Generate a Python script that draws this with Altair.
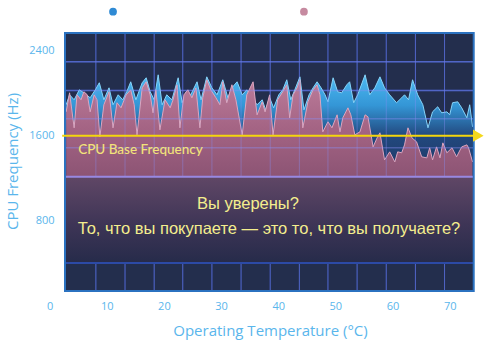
import altair as alt
import pandas as pd

# ---- data ----
pink_x = [2.9,3.5,4.3,4.8,5.5,6.0,6.6,7.1,7.8,8.3,8.8,9.5,10.4,11.1,11.8,12.5,13.4,14.2,14.8,15.3,16.2,16.9,17.6,18.1,18.6,19.3,20.2,21.1,21.6,22.3,22.8,23.5,24.2,24.9,25.6,26.3,26.8,27.5,28.2,29.1,29.8,30.3,31.0,31.9,32.6,33.7,34.5,35.6,36.3,37.2,37.7,38.5,39.1,39.9,40.8,41.5,42.0,42.6,43.3,43.8,44.3,45.2,46.1,46.8,47.3,47.8,48.7,49.4,50.3,50.8,51.3,52.2,52.7,53.4,54.3,55.2,55.7,56.6,57.3,57.8,58.6,59.5,60.4,60.9,61.6,62.1,62.7,63.4,64.2,65.1,66.0,66.5,67.0,67.7,68.3,68.8,69.5,70.4,71.2,72.1,73.0,73.3,74.0]
pink_y = [1825,2005,1674,1986,1939,2015,1986,1825,1986,1939,1589,1892,2015,1674,1911,1863,1986,2033,1892,1608,2052,2109,1986,1816,2033,1655,1939,1863,1939,2081,1674,1986,2033,1958,2052,1674,1958,2128,2033,1958,1892,2109,1911,2081,1939,1608,1986,2109,1797,1920,1825,1986,1608,1939,2015,2081,1769,1986,2052,2128,1674,1920,2033,2081,1986,1636,1731,1674,1797,1636,1769,1863,1797,1608,1636,1797,1778,1494,1579,1627,1371,1447,1352,1447,1438,1513,1674,1579,1542,1400,1390,1485,1371,1494,1390,1532,1438,1485,1400,1494,1513,1485,1352]

blue_x = [2.9,3.5,4.3,5.2,6.0,7.1,8.0,8.7,9.5,10.4,11.1,12.0,12.8,13.5,14.2,15.1,16.2,16.9,17.6,18.3,19.0,19.7,20.5,21.4,22.5,23.2,23.9,24.7,25.8,26.5,27.5,28.4,29.3,30.3,31.2,31.9,32.8,33.7,34.5,35.4,36.3,37.2,37.8,38.5,39.2,40.1,40.8,41.5,42.2,42.9,43.8,44.5,45.4,46.1,46.8,47.5,48.2,48.7,49.6,50.4,51.1,52.0,52.5,53.2,53.9,55.2,56.0,56.9,57.8,58.6,59.5,60.7,61.6,62.1,62.8,63.5,64.4,65.3,66.2,67.0,67.9,68.6,69.5,70.0,70.5,71.4,72.1,73.0,73.5,74.0]
blue_y = [1892,1986,1939,2033,2005,1958,2033,2100,1939,2052,1892,1986,1939,2015,2109,1939,2100,2147,2015,1939,2175,1892,1986,1939,2147,1911,2015,1986,2109,1939,2156,2052,1986,2128,1958,2052,2109,1986,2033,1958,1892,1939,1844,1958,1863,1986,2033,2128,1939,2033,2156,1844,1986,2052,2109,2052,1986,1920,2147,2015,2005,2081,2109,1911,1986,2175,1986,2052,2156,2052,1986,1911,1958,1986,1939,2128,1986,1892,1674,1825,1873,1816,1825,1797,1911,1920,1863,1769,1892,1683]

x_ticks = [0, 10, 20, 30, 40, 50, 60, 70]
y_ticks = [800, 1600, 2400]
grid_x = [8.1, 13.2, 18.3, 23.3, 28.4, 33.5, 38.6, 43.7, 48.7, 53.8, 58.9, 64.0, 69.1]
grid_y = [2298, 2027, 1759, 1485]
base_freq = 1600
plot_box = {"x": [2.7], "x2": [74.2], "y": [132], "y2": [2570]}
band_top = 1212
band_bottom = 397
legend_x = [11.1, 44.5]
legend_y = [2771, 2771]
legend_names = ["blue", "pink"]

line1 = "Вы уверены?"
line2 = "То, что вы покупаете — это то, что вы получаете?"

# ---- scales and axes (identical in every layer) ----
xs = alt.Scale(domain=[-1.5, 76], nice=False, zero=False)
ys = alt.Scale(domain=[85, 2570], nice=False, zero=False)
AXC = "#5ab6ec"
X_AX = alt.Axis(values=x_ticks, title="Operating Temperature (°C)", grid=False, format="d",
                domain=False, ticks=False, tickSize=0, labelPadding=4,
                labelColor=AXC, labelFontSize=11, labelFont="Open Sans",
                titleColor=AXC, titleFontSize=15, titleFont="Open Sans",
                titleFontWeight="normal", titleX=229, titleY=34,
                titleBaseline="middle", titleAlign="center")
Y_AX = alt.Axis(values=y_ticks, title="CPU Frequency (Hz)", grid=False, format="d",
                domain=False, ticks=False, tickSize=0, labelPadding=-13,
                labelColor=AXC, labelFontSize=11, labelFont="Open Sans",
                titleColor=AXC, titleFontSize=15, titleFont="Open Sans",
                titleFontWeight="normal", titleX=-29, titleY=128,
                titleBaseline="middle", titleAlign="center", titleAngle=270)


def X(f="x"):
    return alt.X(f + ":Q", scale=xs, axis=X_AX, title="Operating Temperature (°C)")


def Y(f="y"):
    return alt.Y(f + ":Q", scale=ys, axis=Y_AX, title="CPU Frequency (Hz)")


blue_df = pd.DataFrame({"x": blue_x, "y": blue_y, "y2": band_top})
pink_df = pd.DataFrame({"x": pink_x, "y": pink_y, "y2": band_top})
box_df = pd.DataFrame(plot_box)

bg = alt.Chart(box_df).mark_rect(color="#232e4d").encode(x=X(), x2="x2:Q", y=Y(), y2="y2:Q")

gx_df = pd.DataFrame({"x": grid_x, "y": plot_box["y"][0], "y2": plot_box["y2"][0]})
gy_df = pd.DataFrame({"y": grid_y, "x": plot_box["x"][0], "x2": plot_box["x2"][0]})

grid_under_v = alt.Chart(gx_df).mark_rule(color="#2c4aa6", strokeWidth=1).encode(
    x=X(), y=Y(), y2="y2:Q")
grid_under_h = alt.Chart(gy_df).mark_rule(color="#2c4aa6", strokeWidth=1.5).encode(
    y=Y(), x=X(), x2="x2:Q")

blue_grad = alt.Gradient(gradient="linear", x1=0, x2=0, y1=0, y2=1, stops=[
    alt.GradientStop(color="#4cbaf2", offset=0),
    alt.GradientStop(color="#3496d6", offset=0.3),
    alt.GradientStop(color="#22487e", offset=0.6),
    alt.GradientStop(color="#1e3763", offset=1)])
pink_grad = alt.Gradient(gradient="linear", x1=0, x2=0, y1=0, y2=1, stops=[
    alt.GradientStop(color="#bc7c9a", offset=0),
    alt.GradientStop(color="#a46484", offset=0.5),
    alt.GradientStop(color="#8c5474", offset=1)])

blue_area = alt.Chart(blue_df).mark_area(color=blue_grad, interpolate="linear").encode(
    x=X(), y=Y(), y2="y2:Q")
blue_line = alt.Chart(blue_df).mark_line(color="#86d4fa", strokeWidth=1).encode(x=X(), y=Y())
pink_area = alt.Chart(pink_df).mark_area(color=pink_grad, interpolate="linear").encode(
    x=X(), y=Y(), y2="y2:Q")
pink_line = alt.Chart(pink_df).mark_line(color="#dca6c0", strokeWidth=1).encode(x=X(), y=Y())

grid_over_v = alt.Chart(gx_df).mark_rule(color="#8a8ef4", strokeWidth=1, opacity=0.4).encode(
    x=X(), y=Y(), y2="y2:Q")
grid_over_h = alt.Chart(gy_df).mark_rule(color="#8a8ef4", strokeWidth=1.5, opacity=0.4).encode(
    y=Y(), x=X(), x2="x2:Q")

band_df = pd.DataFrame({"x": plot_box["x"], "x2": plot_box["x2"], "y": [band_top], "y2": [band_bottom]})
band_grad = alt.Gradient(gradient="linear", x1=0, x2=0, y1=0, y2=1, stops=[
    alt.GradientStop(color="#604766", offset=0),
    alt.GradientStop(color="#3e3556", offset=0.55),
    alt.GradientStop(color="#262b4a", offset=1)])
band = alt.Chart(band_df).mark_rect(color=band_grad).encode(x=X(), x2="x2:Q", y=Y(), y2="y2:Q")

band_top_df = pd.DataFrame({"y": [band_top], "x": plot_box["x"], "x2": plot_box["x2"]})
band_bot_df = pd.DataFrame({"y": [band_bottom], "x": plot_box["x"], "x2": plot_box["x2"]})
band_top_line = alt.Chart(band_top_df).mark_rule(color="#9888e2", strokeWidth=2).encode(
    y=Y(), x=X(), x2="x2:Q")
band_bot_line = alt.Chart(band_bot_df).mark_rule(color="#2c4aa6", strokeWidth=2).encode(
    y=Y(), x=X(), x2="x2:Q")

border = alt.Chart(box_df).mark_rect(fill=None, stroke="#2b72c0", strokeWidth=2).encode(
    x=X(), x2="x2:Q", y=Y(), y2="y2:Q")

base_df = pd.DataFrame({"y": [base_freq], "x": [2.2], "x2": [74.6]})
base_line = alt.Chart(base_df).mark_rule(color="#f4d60c", strokeWidth=2).encode(
    y=Y(), x=X(), x2="x2:Q")
arrow_df = pd.DataFrame({"x": [75.0], "y": [base_freq]})
arrow = alt.Chart(arrow_df).mark_point(shape="triangle-right", filled=True, size=150,
                                       color="#f4d81c", opacity=1).encode(x=X(), y=Y())

base_lbl_df = pd.DataFrame({"x": [5.0], "y": [1466], "t": ["CPU Base Frequency"]})
base_lbl = alt.Chart(base_lbl_df).mark_text(align="left", baseline="middle", font="Lato",
                                            fontSize=13.5, fontWeight=500, color="#f2e27a").encode(
    x=X(), y=Y(), text="t:N")

msg_df = pd.DataFrame({"x": [34.7, 38.4], "y": [955, 719], "t": [line1, line2]})
msg = alt.Chart(msg_df).mark_text(align="center", baseline="middle", font="Liberation Sans",
                                  fontSize=16.5, color="#f4ee8e").encode(
    x=X(), y=Y(), text="t:N")

leg_df = pd.DataFrame({"x": legend_x, "y": legend_y, "s": legend_names})
legend_pts = alt.Chart(leg_df).mark_point(filled=True, size=60, opacity=1).encode(
    x=X(), y=Y(),
    color=alt.Color("s:N", scale=alt.Scale(domain=legend_names, range=["#2f8ad4", "#c68aa0"]),
                    legend=None))

chart = alt.layer(
    bg, grid_under_v, grid_under_h, blue_area, blue_line, pink_area, pink_line,
    grid_over_v, grid_over_h, band, band_top_line, band_bot_line, border,
    base_line, arrow, base_lbl, msg, legend_pts
).properties(
    width=443, height=263,
    padding={"left": 41, "top": 33, "right": 4, "bottom": 48},
    autosize=alt.AutoSizeParams(type="none"),
    background="white",
).configure_view(stroke=None)

chart.save("out.html", embed_options={"renderer": "svg", "actions": False})
